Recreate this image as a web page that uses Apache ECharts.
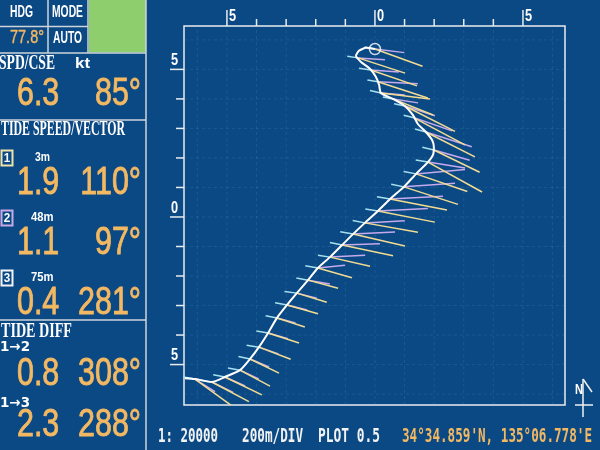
<!DOCTYPE html>
<html><head><meta charset="utf-8">
<script src="https://cdn.jsdelivr.net/npm/echarts@6/dist/echarts.min.js"></script>
<style>html,body{margin:0;padding:0;background:#0b4985}#c{width:600px;height:450px}</style>
</head><body><div id="c"></div>
<script>
// ---------- data ----------
const hdg = 77.8, modeText = 'AUTO', spd = 6.3, cse = 85;
const tideDepth = ['3m', '48m', '75m'];
const tideSpd = [1.9, 1.1, 0.4];
const tideDir = [110, 97, 281];
const diffLabel = ['1\u21922', '1\u21923'];
const diffSpd = [0.8, 2.3];
const diffDir = [308, 288];
const scaleText = '1: 20000', divText = '200m/DIV', plotText = 'PLOT 0.5';
const posText = "34\u00b034.859'N, 135\u00b006.778'E";
const tickVals = [-5, -4, -3, -2, -1, 0, 1, 2, 3, 4, 5];
const gridVals = [-6, -5, -4, -3, -2, -1, 0, 1, 2, 3, 4, 5, 6];

// own-ship track (divisions)
const trackX = [-6.42,-6.08,-5.51,-5.07,-4.56,-4.22,-3.92,-3.61,-3.31,-2.97,-2.64,-2.26,-1.93,-1.52,-1.11,-0.74,-0.34,0.10,0.51,0.98,1.39,1.79,1.96,1.99,1.93,1.72,1.45,1.28,1.01,0.61,0.20,0.14,0.03,-0.17,-0.47,-0.64,-0.54,-0.30,0.00];
const trackY = [-5.46,-5.49,-5.59,-5.42,-5.19,-4.81,-4.41,-3.93,-3.42,-2.98,-2.58,-2.14,-1.73,-1.36,-0.95,-0.58,-0.20,0.20,0.61,1.02,1.46,1.86,2.10,2.37,2.61,2.88,3.15,3.46,3.76,4.00,4.20,4.47,4.75,5.02,5.25,5.46,5.63,5.73,5.69];

// plot points where tide vectors are drawn
const vecX = [-6.08,-5.51,-5.07,-4.56,-4.22,-3.92,-3.61,-3.31,-2.97,-2.64,-2.26,-1.93,-1.52,-1.11,-0.74,-0.34,0.10,0.51,0.98,1.39,1.79,1.99,1.72,1.32,1.01,0.61,0.20,0.10,-0.14,-0.57,0.00];
const vecY = [-5.49,-5.59,-5.42,-5.19,-4.81,-4.41,-3.93,-3.42,-2.98,-2.58,-2.14,-1.73,-1.36,-0.95,-0.58,-0.20,0.20,0.61,1.02,1.46,1.86,2.27,2.88,3.36,3.76,4.00,4.20,4.58,4.98,5.39,5.69];
// layer 1 (3m)
const l1Len = [1.50,1.42,1.39,1.15,1.09,1.15,1.10,0.99,1.09,1.06,1.05,1.20,1.39,1.76,1.80,1.82,1.96,1.96,1.92,1.83,2.09,1.72,1.86,1.95,1.90,1.46,1.67,1.77,1.65,1.67,1.71];
const l1Dir = [126,118,116,118,116,111,108,108,106,107,105,106,103,102,103,100,101,101,108,109,119,116,117,118,117,112,97,108,109,108,110];
// layer 2 (48m)
const l2Len = [0.80,0.80,0.75,0.70,0.70,0.70,0.70,0.65,0.70,0.70,0.75,0.92,1.19,1.28,1.42,1.35,1.69,1.79,1.73,1.66,1.27,1.26,1.63,1.36,1.07,0.86,0.81,1.35,0.95,0.91,1.00];
const l2Dir = [122,116,114,115,113,109,106,105,104,104,100,84,87,88,87,87,87,87,86,85,99,106,108,109,108,99,95,93,94,94,97];
// layer 3 (75m)
const l3Len = [0.40,0.42,0.40,0.41,0.40,0.42,0.40,0.39,0.41,0.42,0.40,0.43,0.41,0.42,0.44,0.42,0.43,0.45,0.44,0.43,0.42,0.40,0.38,0.36,0.37,0.35,0.38,0.36,0.40,0.37,0.36];
const l3Dir = [280,279,281,280,282,279,280,281,280,278,281,280,279,282,280,281,279,280,282,281,280,283,285,284,282,281,283,280,278,279,281];

// ---------- layout / style ----------
const X_MIN = -6.45, X_MAX = 6.42, Y_MIN = -6.37, Y_MAX = 6.47;
const BG = '#0b4985', ORANGE = '#f3b862', FRAME = '#e9ecef', PANEL = '#cfd4da';
const SANS = "'Liberation Sans', Arial, sans-serif";
const DSANS = "'DejaVu Sans', sans-serif";
const SERIF = "'Liberation Serif', 'Times New Roman', serif";
const MONO = "'DejaVu Sans Mono', monospace";
const mctx = document.createElement('canvas').getContext('2d');

function T(text, x, cy, font, fill, opt) {
  opt = opt || {};
  let sx = opt.sx || 1;
  if (opt.w) { mctx.font = font; sx = opt.w / mctx.measureText(text).width; }
  const style = { text: text, fill: fill, font: font, textAlign: opt.align || 'left', textVerticalAlign: 'middle' };
  if (opt.stroke) { style.stroke = fill; style.lineWidth = opt.stroke; }
  return { type: 'text', x: x, y: cy, scaleX: sx, scaleY: opt.sy || 1, z: 10, silent: true, style: style };
}
function L(x1, y1, x2, y2, c, w) {
  return { type: 'line', silent: true, z: 5, shape: { x1: x1, y1: y1, x2: x2, y2: y2 },
    style: { stroke: c || PANEL, lineWidth: w || 1.5 } };
}
const BIGF = '39px ' + SANS, BIGS = 0.78;
function big(text, x, cy, align) { return T(text, x, cy, BIGF, ORANGE, { sx: BIGS, align: align, stroke: 0.9 }); }

const g = [];
g.push({ type: 'rect', z: 4, silent: true, shape: { x: 89, y: 0, width: 57, height: 52.5 }, style: { fill: '#8fce6c' } });
g.push(L(48, 0, 48, 53), L(88, 0, 88, 53), L(0, 26.5, 88, 26.5), L(0, 53, 146, 53),
       L(146, 0, 146, 450), L(0, 120, 146, 120), L(0, 320, 146, 320));
g.push(T('HDG', 10, 12.5, 'bold 16px ' + SANS, '#fff', { w: 23 }));
g.push(T('MODE', 52, 12.5, 'bold 16px ' + SANS, '#fff', { w: 31 }));
g.push(T(hdg.toFixed(1) + '\u00b0', 10, 38.5, '18px ' + SANS, ORANGE, { w: 34, stroke: 0.4 }));
g.push(T(modeText, 53, 38.5, 'bold 17px ' + SANS, '#fff', { w: 29 }));
g.push(T('SPD/CSE', -1, 63.5, 'bold 20px ' + SERIF, '#fff', { w: 56 }));
g.push(T('kt', 75, 64, 'bold 15px ' + SANS, '#fff', { w: 15 }));
g.push(big(spd.toFixed(1), 17, 94, 'left'), big(cse + '\u00b0', 141, 94, 'right'));
g.push(T('TIDE SPEED/VECTOR', 1, 130, 'bold 21px ' + SERIF, '#fff', { w: 124 }));
const boxCol = ['#efe2a8', '#c9a8e8', '#f4f4f4'];
for (let i = 0; i < 3; i++) {
  const bc = 158 + 60 * i;
  g.push({ type: 'rect', z: 6, silent: true, shape: { x: 1.5, y: bc - 7.5, width: 11, height: 15 },
    style: { fill: BG, stroke: boxCol[i], lineWidth: 2 } });
  g.push(T(String(i + 1), 7, bc, 'bold 13px ' + SANS, '#fff', { align: 'center', sx: 0.9 }));
  g.push(T(tideDepth[i], 35 - (i ? 4 : 0), bc - 1, 'bold 13px ' + SANS, '#fff', { w: tideDepth[i].length * 7.5 }));
  g.push(big(tideSpd[i].toFixed(1), 17, 183.5 + 60 * i, 'left'));
  g.push(big(tideDir[i] + '\u00b0', 141, 183.5 + 60 * i, 'right'));
}
g.push(T('TIDE DIFF', 1, 331.5, 'bold 20px ' + SERIF, '#fff', { w: 71 }));
const diffLabCy = [347.5, 403], diffNumCy = [374.5, 425];
for (let j = 0; j < 2; j++) {
  g.push(T(diffLabel[j], 0, diffLabCy[j], 'bold 14px ' + DSANS, '#fff', { w: 30 }));
  g.push(big(diffSpd[j].toFixed(1), 17, diffNumCy[j], 'left'));
  g.push(big(diffDir[j] + '\u00b0', 141, diffNumCy[j], 'right'));
}
g.push(T(scaleText, 158, 437, 'bold 19px ' + MONO, '#f2f2f2', { w: 60 }));
g.push(T(divText, 242, 437, 'bold 19px ' + MONO, '#f2f2f2', { w: 61 }));
g.push(T(plotText, 318, 437, 'bold 19px ' + MONO, '#f2f2f2', { w: 62 }));
g.push(T(posText, 402, 437, 'bold 19px ' + MONO, ORANGE, { w: 190 }));
// north arrow
g.push(T('N', 575, 390, 'bold 14px ' + SANS, '#fff', { w: 8 }));
g.push(L(583, 379, 583, 417, '#f0f0f0', 1.5), L(575, 405, 593, 405, '#f0f0f0', 1.5), L(583, 379, 592, 392, '#f0f0f0', 1.5));

function vecLines(len, dir) {
  return vecX.map(function (x, i) {
    const r = dir[i] * Math.PI / 180;
    return { coords: [[x, vecY[i]], [x + len[i] * Math.sin(r), vecY[i] + len[i] * Math.cos(r)]] };
  });
}
function vecSeries(name, len, dir, color) {
  return { name: name, type: 'lines', coordinateSystem: 'cartesian2d', polyline: false, silent: true,
    data: vecLines(len, dir), lineStyle: { color: color, width: 1.5, opacity: 1 }, effect: { show: false } };
}

const chart = echarts.init(document.getElementById('c'), null, { renderer: 'canvas' });
chart.setOption({
  backgroundColor: BG,
  animation: false,
  grid: { left: 184, top: 26, width: 381, height: 379, show: true, borderColor: FRAME, borderWidth: 1.5, backgroundColor: 'transparent' },
  xAxis: { type: 'value', min: X_MIN, max: X_MAX, show: false },
  yAxis: { type: 'value', min: Y_MIN, max: Y_MAX, show: false },
  graphic: g,
  series: [
    { name: 'grid', type: 'custom', silent: true, z: 0,
      data: gridVals.map(function (v) { return [v, 0]; }),
      encode: { x: 0, y: 1 },
      renderItem: function (params, api) {
        const v = api.value(0);
        const a = api.coord([v, Y_MIN]), b = api.coord([v, Y_MAX]);
        const c = api.coord([X_MIN, v]), d = api.coord([X_MAX, v]);
        const st = { stroke: 'rgba(150,190,230,0.13)', lineWidth: 1, lineDash: [3, 3] };
        return { type: 'group', children: [
          { type: 'line', shape: { x1: a[0], y1: a[1], x2: b[0], y2: b[1] }, style: st },
          { type: 'line', shape: { x1: c[0], y1: c[1], x2: d[0], y2: d[1] }, style: st }
        ] };
      } },
    vecSeries('48m', l2Len, l2Dir, '#c6aaec'),
    vecSeries('3m', l1Len, l1Dir, '#f3dc92'),
    vecSeries('75m', l3Len, l3Dir, '#a6e2ee'),
    { name: 'track', type: 'line', data: trackX.map(function (x, i) { return [x, trackY[i]]; }),
      showSymbol: false, smooth: 0.2, silent: true, lineStyle: { color: '#ffffff', width: 2 } },
    { name: 'ship', type: 'scatter', silent: true, symbol: 'circle', symbolSize: 11,
      data: [[trackX[trackX.length - 1], trackY[trackY.length - 1]]],
      itemStyle: { color: 'rgba(0,0,0,0)', borderColor: '#ffffff', borderWidth: 1.5 } },
    { name: 'ticks', type: 'custom', silent: true, clip: false,
      data: tickVals.map(function (v) { return [v, 0]; }),
      encode: { x: 0, y: 1 },
      renderItem: function (params, api) {
        const v = api.value(0);
        const top = api.coord([v, Y_MAX]);
        const left = api.coord([X_MIN, v]);
        const major = v % 5 === 0;
        const st = { stroke: FRAME, lineWidth: 1.5 };
        const ch = [
          { type: 'line', shape: { x1: top[0], y1: top[1], x2: top[0], y2: top[1] - (major ? 16 : 7) }, style: st },
          { type: 'line', shape: { x1: left[0], y1: left[1], x2: left[0] - (major ? 14 : 8), y2: left[1] }, style: st }
        ];
        if (major) {
          const lab = String(Math.abs(v));
          ch.push({ type: 'text', x: top[0] + 2, y: top[1] - 10, scaleX: 0.75,
            style: { text: lab, fill: '#fff', font: 'bold 17px ' + SANS, textAlign: 'left', textVerticalAlign: 'middle' } });
          ch.push({ type: 'text', x: left[0] - 13, y: left[1] - 9, scaleX: 0.75,
            style: { text: lab, fill: '#fff', font: 'bold 17px ' + SANS, textAlign: 'left', textVerticalAlign: 'middle' } });
        }
        return { type: 'group', children: ch };
      } }
  ]
});
</script></body></html>
